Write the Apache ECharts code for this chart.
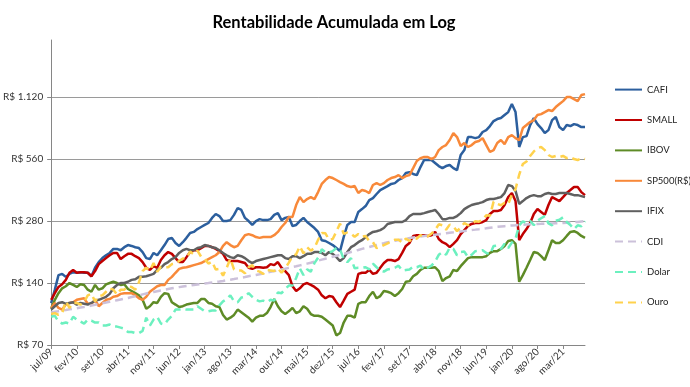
<!DOCTYPE html>
<html><head><meta charset="utf-8">
<script src="https://cdn.jsdelivr.net/npm/echarts@6/dist/echarts.min.js"></script>
<style>html,body{margin:0;padding:0;background:#fff}#c{width:690px;height:387px}</style>
</head><body><div id="c"></div>
<script>
const categories = [
'jul/09','ago/09','set/09','out/09','nov/09','dez/09',
'jan/10','fev/10','mar/10','abr/10','mai/10','jun/10','jul/10','ago/10','set/10','out/10','nov/10','dez/10',
'jan/11','fev/11','mar/11','abr/11','mai/11','jun/11','jul/11','ago/11','set/11','out/11','nov/11','dez/11',
'jan/12','fev/12','mar/12','abr/12','mai/12','jun/12','jul/12','ago/12','set/12','out/12','nov/12','dez/12',
'jan/13','fev/13','mar/13','abr/13','mai/13','jun/13','jul/13','ago/13','set/13','out/13','nov/13','dez/13',
'jan/14','fev/14','mar/14','abr/14','mai/14','jun/14','jul/14','ago/14','set/14','out/14','nov/14','dez/14',
'jan/15','fev/15','mar/15','abr/15','mai/15','jun/15','jul/15','ago/15','set/15','out/15','nov/15','dez/15',
'jan/16','fev/16','mar/16','abr/16','mai/16','jun/16','jul/16','ago/16','set/16','out/16','nov/16','dez/16',
'jan/17','fev/17','mar/17','abr/17','mai/17','jun/17','jul/17','ago/17','set/17','out/17','nov/17','dez/17',
'jan/18','fev/18','mar/18','abr/18','mai/18','jun/18','jul/18','ago/18','set/18','out/18','nov/18','dez/18',
'jan/19','fev/19','mar/19','abr/19','mai/19','jun/19','jul/19','ago/19','set/19','out/19','nov/19','dez/19',
'jan/20','fev/20','mar/20','abr/20','mai/20','jun/20','jul/20','ago/20','set/20','out/20','nov/20','dez/20',
'jan/21','fev/21','mar/21','abr/21','mai/21','jun/21','jul/21','ago/21','set/21'];

const yTickLabels = ['R$ 70','R$ 140','R$ 280','R$ 560','R$ 1.120'];

const cafi = [112,130,153,155,150,155,158,157,158,157,
157,151,166,177,185,191,196,205,205,202,
209,214,212,209,207,198,185,183,196,191,
202,214,229,232,219,212,221,232,245,248,
256,262,268,274,290,303,296,280,280,283,
300,324,317,290,280,268,280,286,283,283,
286,300,306,283,290,293,265,268,280,290,
277,268,259,248,226,224,219,214,207,200,
234,268,277,277,310,320,331,354,362,379,
396,405,414,424,428,443,453,479,484,474,
468,512,554,554,554,536,518,506,518,524,
506,495,586,619,716,716,708,716,758,774,
810,857,876,886,916,947,1036,947,641,716,
724,819,886,828,792,749,774,866,896,801,
774,819,810,828,819,801,801];

const small = [116,125,134,138,145,157,162,157,158,158,
157,151,160,173,179,185,191,196,196,183,
189,194,194,189,185,177,166,162,169,166,
181,191,198,194,185,177,177,187,198,202,
202,207,212,212,209,205,200,194,181,179,
179,179,177,175,166,164,167,167,166,167,
173,171,177,166,160,153,135,128,132,138,
140,137,134,130,122,118,121,120,113,107,
115,124,127,130,155,157,157,162,155,157,
166,175,181,181,179,183,196,212,219,237,
239,239,239,237,239,248,229,221,217,209,
217,226,242,253,265,271,274,274,277,283,
303,313,313,317,335,366,383,350,226,242,
256,274,303,320,310,300,335,366,358,350,
366,383,396,410,410,387,374];

const ibov = [105,116,125,132,135,140,137,134,138,137,
130,127,137,130,132,138,140,142,140,137,
138,131,128,125,122,116,105,108,113,112,
120,125,124,113,110,107,108,110,111,112,
112,117,117,112,111,108,107,98,93,95,
98,104,101,98,95,91,95,97,97,100,
107,117,108,102,99,102,106,100,102,108,
105,99,97,97,96,93,90,87,78,80,
90,97,97,95,111,113,113,121,127,118,
121,128,127,125,121,125,131,142,143,151,
155,162,166,166,166,167,160,143,148,151,
162,160,169,177,185,187,187,187,187,189,
196,200,200,205,212,224,226,217,142,153,
166,181,198,196,189,181,202,226,219,219,
226,237,248,250,245,237,232];

const sp500 = [106,112,106,104,110,112,113,116,117,118,
111,111,116,108,112,116,117,120,121,124,
125,125,125,122,118,116,120,127,131,135,
137,137,145,150,157,164,166,167,169,171,
173,175,179,183,187,191,198,212,221,214,
209,212,226,239,242,239,234,232,234,234,
234,239,248,262,274,293,293,335,366,346,
358,366,358,387,424,443,458,453,443,433,
424,414,410,414,383,396,392,383,419,428,
419,428,443,453,458,468,453,463,468,506,
548,566,573,573,560,573,619,641,655,693,
749,716,648,670,641,655,678,685,708,655,
606,619,670,693,662,716,732,708,693,792,
819,847,866,916,926,947,969,958,1002,1036,
1071,1120,1120,1095,1071,1146,1158];

const ifix = [104,108,112,113,111,112,113,110,112,111,
110,112,115,116,118,120,124,132,137,140,
140,142,145,146,150,150,151,153,155,162,
166,173,177,183,187,196,202,205,202,202,
207,209,214,212,209,207,202,196,191,187,
185,191,189,185,179,175,179,181,183,185,
187,189,191,191,185,183,189,189,185,189,
194,194,198,198,196,191,198,194,187,179,
185,198,209,214,221,226,234,242,248,250,
253,259,271,274,277,277,277,283,296,303,
303,303,306,310,313,317,303,286,286,290,
290,296,306,320,328,335,339,342,346,354,
358,358,362,366,383,419,414,392,339,350,
362,370,374,370,370,379,383,379,379,383,
383,383,379,374,374,370,366];

const cdi = [100.8,101.5,102.2,102.9,103.5,104.3,
105.0,105.6,106.4,107.1,107.9,108.8,109.7,110.7,111.6,112.5,113.5,114.5,
115.5,116.5,117.5,118.5,119.7,120.8,122.0,123.3,124.5,125.6,126.6,127.8,
128.9,129.9,130.9,131.9,132.8,133.7,134.6,135.5,136.2,137.1,137.8,138.5,
139.4,140.0,140.8,141.6,142.4,143.3,144.3,145.3,146.3,147.5,148.6,149.7,
151.0,152.2,153.3,154.5,155.9,157.2,158.6,160.0,161.4,163.0,164.3,165.9,
167.4,168.8,170.6,172.2,173.9,175.7,177.8,179.8,181.8,183.8,185.7,187.9,
189.9,191.8,194.0,196.0,198.2,200.5,202.7,205.2,207.4,209.6,211.8,214.2,
216.5,218.4,220.7,222.4,224.5,226.3,228.1,230.0,231.4,232.9,234.2,235.5,
236.9,238.0,239.2,240.5,241.7,243.0,244.3,245.7,246.8,248.2,249.4,250.6,
252.0,253.2,254.4,255.7,257.1,258.3,259.8,261.1,262.3,263.5,264.5,265.5,
266.5,267.3,268.2,268.9,269.6,270.2,270.7,271.1,271.5,272.0,272.4,272.8,
273.2,273.6,274.1,274.7,275.4,276.3,277.3,278.5,279.7];

const dolar = [96,97,91,89,90,89,
96,93,91,89,93,92,90,90,87,87,88,86,
86,85,84,81,81,80,80,82,95,87,93,96,
89,88,93,97,104,104,105,104,104,104,108,105,
102,102,103,103,109,114,117,122,114,113,119,120,
125,120,116,114,115,113,116,115,126,125,131,136,
136,148,165,153,163,159,175,186,204,198,197,200,
207,204,183,177,185,165,166,166,167,163,174,167,
161,159,163,164,166,170,161,162,163,168,167,170,
162,166,170,178,192,198,192,208,205,191,198,199,
187,192,200,201,202,196,193,212,213,205,217,207,
220,230,267,279,274,281,267,281,289,296,273,267,
281,284,292,277,268,256,267,264,279];

const ouro = [99,100,98,100,114,106,
112,112,110,113,122,124,114,121,122,127,132,130,
123,130,130,135,134,130,141,160,166,161,175,159,
168,167,167,173,174,179,184,185,199,193,201,188,
183,174,178,163,164,152,166,184,163,161,161,156,
167,171,161,159,155,162,161,160,165,157,165,176,
189,193,211,195,209,201,207,227,245,244,227,229,
249,272,243,246,243,235,242,235,237,224,221,207,
210,214,218,224,227,227,220,230,224,231,230,239,
235,236,243,253,270,267,254,269,264,250,261,274,
267,272,279,278,284,299,297,348,339,334,343,338,
376,400,470,530,545,580,610,633,641,619,586,573,
580,573,580,566,573,560,554,566,560];

const BASE = 70;
const seriesDefs = [
  {name:'CAFI', data:cafi, color:'#2C5F9E', dashed:false},
  {name:'SMALL', data:small, color:'#C00000', dashed:false},
  {name:'IBOV', data:ibov, color:'#5E8B26', dashed:false},
  {name:'SP500(R$)', data:sp500, color:'#F8893A', dashed:false},
  {name:'IFIX', data:ifix, color:'#606060', dashed:false},
  {name:'CDI', data:cdi, color:'#CCC1DA', dashed:true},
  {name:'Dolar', data:dolar, color:'#6CF0BF', dashed:true},
  {name:'Ouro', data:ouro, color:'#FFD24D', dashed:true}
];

const FONT = 'Lato, "Liberation Sans", sans-serif';
const chart = echarts.init(document.getElementById('c'));
chart.setOption({
  animation: false,
  backgroundColor: '#fff',
  title: {
    text: 'Rentabilidade Acumulada em Log',
    left: 329, top: 9, textAlign: 'center',
    textStyle: {fontSize: 16.5, fontWeight: 'bold', color: '#000', fontFamily: FONT}
  },
  grid: {left: 50, right: 105, top: 40, bottom: 42},
  legend: {
    orient: 'vertical', left: 609, top: 79,
    itemWidth: 27, itemHeight: 14, itemGap: 19.2,
    itemStyle: {opacity: 0},
    textStyle: {fontSize: 9.5, color: '#222', fontFamily: FONT},
    data: seriesDefs.map(s => s.name)
  },
  xAxis: {
    type: 'category', data: categories, boundaryGap: false,
    axisLine: {lineStyle: {color: '#868686', width: 1}},
    axisTick: {show: true, interval: 6, length: 4, lineStyle: {color: '#868686'}},
    axisLabel: {interval: 6, rotate: 45, fontSize: 10, color: '#333', margin: 5, fontFamily: FONT},
    splitLine: {show: false}
  },
  yAxis: {
    type: 'log', logBase: 2, min: 1, max: 30.3, interval: 1,
    axisLine: {show: true, lineStyle: {color: '#868686', width: 1}},
    axisTick: {show: true, length: 4, lineStyle: {color: '#868686'}},
    axisLabel: {
      fontSize: 10, color: '#333', margin: 8, fontFamily: FONT, showMaxLabel: false,
      formatter: function (v) {
        const k = Math.round(Math.log2(v));
        return Math.abs(Math.log2(v) - k) < 1e-6 && yTickLabels[k] ? yTickLabels[k] : '';
      }
    },
    splitLine: {show: true, showMinLine: false, showMaxLine: false, lineStyle: {color: '#9a9a9a', width: 1}}
  },
  series: seriesDefs.map(s => ({
    name: s.name, type: 'line', symbol: 'none', smooth: false,
    data: s.data.map(v => v / BASE),
    color: s.color,
    lineStyle: {color: s.color, width: 2.5, type: s.dashed ? [8, 5] : 'solid'},
    emphasis: {disabled: true}
  }))
});
</script>
</body></html>
